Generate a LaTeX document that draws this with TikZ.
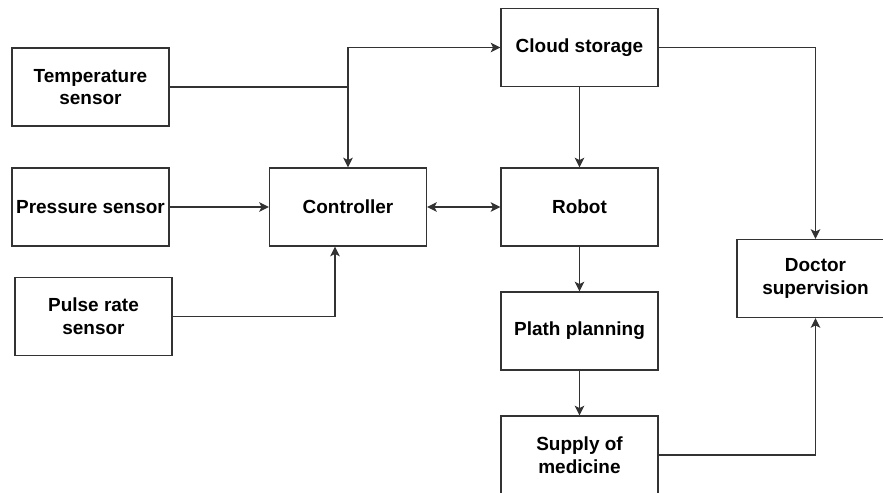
\documentclass[tikz,border=0pt]{standalone}
\usepackage{fontspec}
\setmainfont{Liberation Sans}
\usetikzlibrary{positioning, arrows.meta}
\definecolor{linegray}{RGB}{51,51,51}

\begin{document}
\begin{tikzpicture}[x=0.02cm, y=-0.02cm,
		>={Stealth[length=5.5pt, width=5.5pt, inset=1.3pt]},
		block/.style={draw=linegray, line width=0.7pt, minimum width=3.14cm, minimum height=1.56cm,
			inner sep=1pt, align=center, font=\fontsize{10.8}{13}\selectfont\bfseries},
		link/.style={->, draw=linegray, line width=0.7pt}]
		
		% page frame, boxes on the right and bottom run off the page
		\useasboundingbox (0,0) rectangle (883,493);
		\clip (0,0) rectangle (883,493);
		
		% sensors on the left
		\node[block] (temp) at (90.5,87) {Temperature\\sensor};
		\node[block] (press) at (90.5,207) {Pressure sensor};
		\node[block] (pulse) at (93.5,316.5) {Pulse rate\\sensor};
		
		% controller and robot chain
		\node[block] (ctrl) at (348,207) {Controller};
		\node[block] (cloud) at (579.5,47.5) {Cloud storage};
		\node[block] (robot) at (579.5,207) {Robot};
		\node[block] (plan) at (579.5,331) {Plath planning};
		\node[block] (supply) at (579.5,455) {Supply of\\medicine};
		\node[block] (doctor) at (815.5,278.5) {Doctor\\supervision};
		
		% sensor inputs to the controller
		\draw[link] (temp.east) -| (ctrl.north);
		\draw[link] (temp.east -| ctrl.north) |- (cloud.west);
		\draw[link] (press.east) -- (ctrl.west);
		\draw[link] (pulse.east) -| ([xshift=-0.26cm]ctrl.south);
		
		% controller and robot talk both ways
		\draw[link, <->] (ctrl.east) -- (robot.west);
		
		% down the middle column
		\draw[link] (cloud.south) -- (robot.north);
		\draw[link] (robot.south) -- (plan.north);
		\draw[link] (plan.south) -- (supply.north);
		
		% reports to the doctor
		\draw[link] (cloud.east) -| (doctor.north);
		\draw[link] (supply.east) -| (doctor.south);
	\end{tikzpicture}
\end{document}
